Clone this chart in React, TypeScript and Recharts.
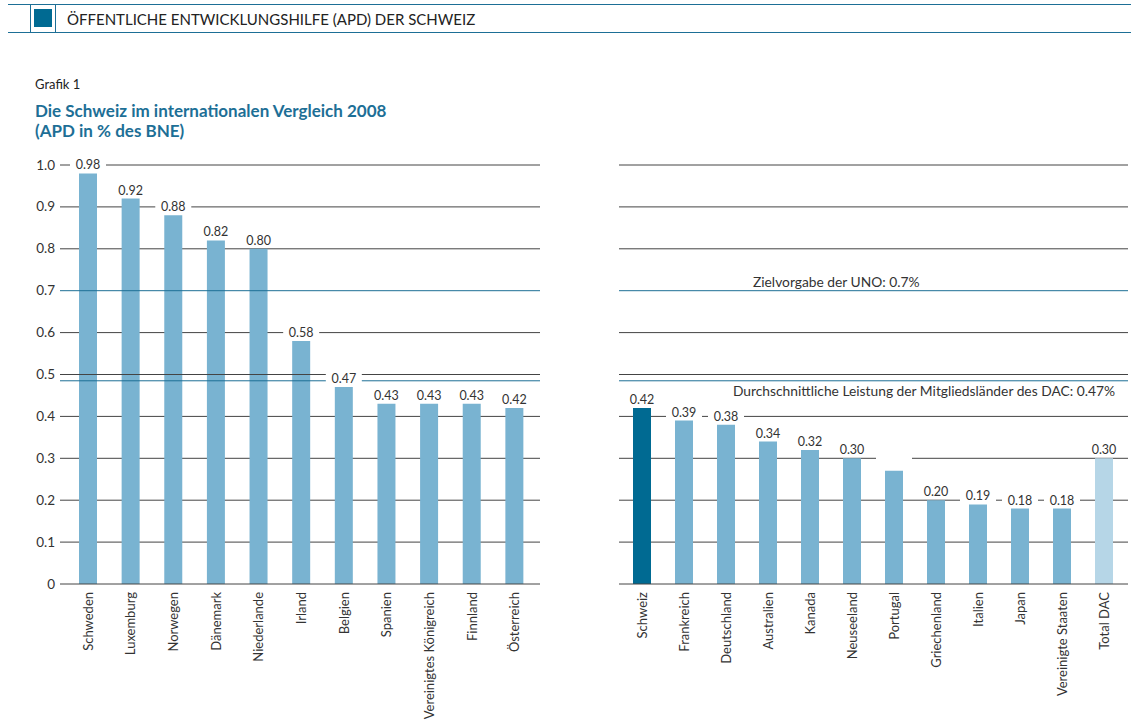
import { BarChart, Bar, XAxis, YAxis, CartesianGrid, ReferenceLine, LabelList, Cell } from 'recharts';

// Daten aus der Grafik (APD in % des BNE, 2008)
const leftCountries = ['Schweden', 'Luxemburg', 'Norwegen', 'Dänemark', 'Niederlande', 'Irland', 'Belgien', 'Spanien', 'Vereinigtes Königreich', 'Finnland', 'Österreich'];
const leftValues = [0.98, 0.92, 0.88, 0.82, 0.8, 0.58, 0.47, 0.43, 0.43, 0.43, 0.42];

const rightCountries = ['Schweiz', 'Frankreich', 'Deutschland', 'Australien', 'Kanada', 'Neuseeland', 'Portugal', 'Griechenland', 'Italien', 'Japan', 'Vereinigte Staaten', 'Total DAC'];
const rightValues = [0.42, 0.39, 0.38, 0.34, 0.32, 0.3, 0.27, 0.2, 0.19, 0.18, 0.18, 0.3];
const unlabelled = ['Portugal'];

const yTicks = [0, 0.1, 0.2, 0.3, 0.4, 0.5, 0.6, 0.7, 0.8, 0.9, 1.0];
const gridValues = [0.1, 0.2, 0.3, 0.4, 0.6, 0.8, 0.9, 1.0];
const unoTarget = 0.7;
const dacLine = 0.485;
const halfLine = 0.5;

const FONT = 'Lato, "Open Sans", sans-serif';
const BAR = '#79b3d1';
const SWISS = '#006a92';
const TOTAL = '#b6d6e7';
const BLUE = '#1d6f96';
const GRID = '#444';
const TEXT = '#333';

const leftData = leftCountries.map((name, i) => ({ name, value: leftValues[i] }));
const rightData = rightCountries.map((name, i) => ({ name, value: rightValues[i] }));

const ValueLabel = (props: any) => {
  const { x, y, width, value, index, names } = props;
  const cx = x + width / 2;
  const hidden = names && unlabelled.includes(names[index]);
  return (
    <g>
      <rect x={cx - 18} y={y - 16} width={36} height={14} fill='#fff' />
      {!hidden && (
        <text x={cx} y={y - 4} textAnchor='middle' fontSize={12.5} fill={TEXT} fontFamily={FONT}>
          {Number(value).toFixed(2)}
        </text>
      )}
    </g>
  );
};

const CountryTick = (props: any) => {
  const { x, payload } = props;
  return (
    <text
      transform={`translate(${x + 4.5},592) rotate(-90)`}
      textAnchor='end'
      fontSize={13}
      fill={TEXT}
      fontFamily={FONT}
    >
      {payload.value}
    </text>
  );
};

const ValueTick = (props: any) => {
  const { y, payload } = props;
  return (
    <text x={55} y={y + 4.5} textAnchor='end' fontSize={13.5} fill={TEXT} fontFamily={FONT}>
      {payload.value === 0 ? '0' : payload.value.toFixed(1)}
    </text>
  );
};

const App = () => {
  return (
    <div style={{ position: 'absolute', left: 0, top: 0, width: 1131, height: 723, background: '#fff', fontFamily: FONT }}>
      <svg width={1131} height={80} style={{ position: 'absolute', left: 0, top: 0 }}>
        <line x1={8} y1={4.5} x2={1131} y2={4.5} stroke={BLUE} strokeWidth={1.2} />
        <line x1={8} y1={32.5} x2={1131} y2={32.5} stroke={BLUE} strokeWidth={1.2} />
        <line x1={30.5} y1={4} x2={30.5} y2={32} stroke={BLUE} strokeWidth={1} />
        <line x1={55.5} y1={4} x2={55.5} y2={32} stroke={BLUE} strokeWidth={1} />
        <rect x={34} y={9} width={18} height={18} fill={SWISS} />
        <text x={67} y={25} fontSize={15} fill='#222' fontFamily={FONT}>
          ÖFFENTLICHE ENTWICKLUNGSHILFE (APD) DER SCHWEIZ
        </text>
      </svg>
      <div style={{ position: 'absolute', left: 35, top: 76, fontSize: 13, color: '#222' }}>Grafik 1</div>
      <div style={{ position: 'absolute', left: 35, top: 101, fontSize: 17, lineHeight: '20px', color: BLUE, fontWeight: 700 }}>
        Die Schweiz im internationalen Vergleich 2008
        <br />
        (APD in % des BNE)
      </div>

      <div style={{ position: 'absolute', left: 0, top: 0 }}>
        <BarChart width={560} height={723} data={leftData} margin={{ top: 165, right: 20, bottom: 0, left: 0 }} barSize={18} barGap={-18}>
          <CartesianGrid vertical={false} horizontalValues={gridValues} stroke={GRID} />
          <XAxis
            dataKey='name'
            interval={0}
            height={139}
            tickLine={false}
            axisLine={{ stroke: GRID }}
            tick={<CountryTick />}
            padding={{ left: 7, right: 4 }}
          />
          <YAxis width={60} domain={[0, 1]} ticks={yTicks} axisLine={false} tickLine={false} tick={<ValueTick />} />
          <Bar dataKey='value' fill={BAR} isAnimationActive={false} />
          <ReferenceLine y={unoTarget} stroke={BLUE} strokeWidth={1} />
          <ReferenceLine y={halfLine} stroke={GRID} strokeWidth={1} />
          <ReferenceLine y={dacLine} stroke={BLUE} strokeWidth={1} />
          <Bar dataKey='value' fill='none' isAnimationActive={false}>
            <LabelList dataKey='value' content={<ValueLabel names={leftCountries} />} />
          </Bar>
        </BarChart>
      </div>

      <div style={{ position: 'absolute', left: 600, top: 0 }}>
        <BarChart width={531} height={723} data={rightData} margin={{ top: 165, right: 3, bottom: 0, left: 19 }} barSize={18} barGap={-18}>
          <CartesianGrid vertical={false} horizontalValues={gridValues} stroke={GRID} />
          <XAxis
            dataKey='name'
            interval={0}
            height={139}
            tickLine={false}
            axisLine={{ stroke: GRID }}
            tick={<CountryTick />}
            padding={{ left: 2, right: 3 }}
          />
          <YAxis hide domain={[0, 1]} ticks={yTicks} />
          <Bar dataKey='value' fill={BAR} isAnimationActive={false}>
            {rightData.map((d) => (
              <Cell key={d.name} fill={d.name === 'Schweiz' ? SWISS : d.name === 'Total DAC' ? TOTAL : BAR} />
            ))}
          </Bar>
          <ReferenceLine
            y={unoTarget}
            stroke={BLUE}
            strokeWidth={1}
            label={(p: any) => (
              <text x={p.viewBox.x + 134} y={p.viewBox.y - 4} fontSize={13.8} fill={TEXT} fontFamily={FONT}>
                Zielvorgabe der UNO: 0.7%
              </text>
            )}
          />
          <ReferenceLine y={halfLine} stroke={GRID} strokeWidth={1} />
          <ReferenceLine
            y={dacLine}
            stroke={BLUE}
            strokeWidth={1}
            label={(p: any) => (
              <text x={p.viewBox.x + p.viewBox.width - 13} y={p.viewBox.y + 15} textAnchor='end' fontSize={13.8} fill={TEXT} fontFamily={FONT}>
                Durchschnittliche Leistung der Mitgliedsländer des DAC: 0.47%
              </text>
            )}
          />
          <Bar dataKey='value' fill='none' isAnimationActive={false}>
            <LabelList dataKey='value' content={<ValueLabel names={rightCountries} />} />
          </Bar>
        </BarChart>
      </div>
    </div>
  );
};

export default App;
